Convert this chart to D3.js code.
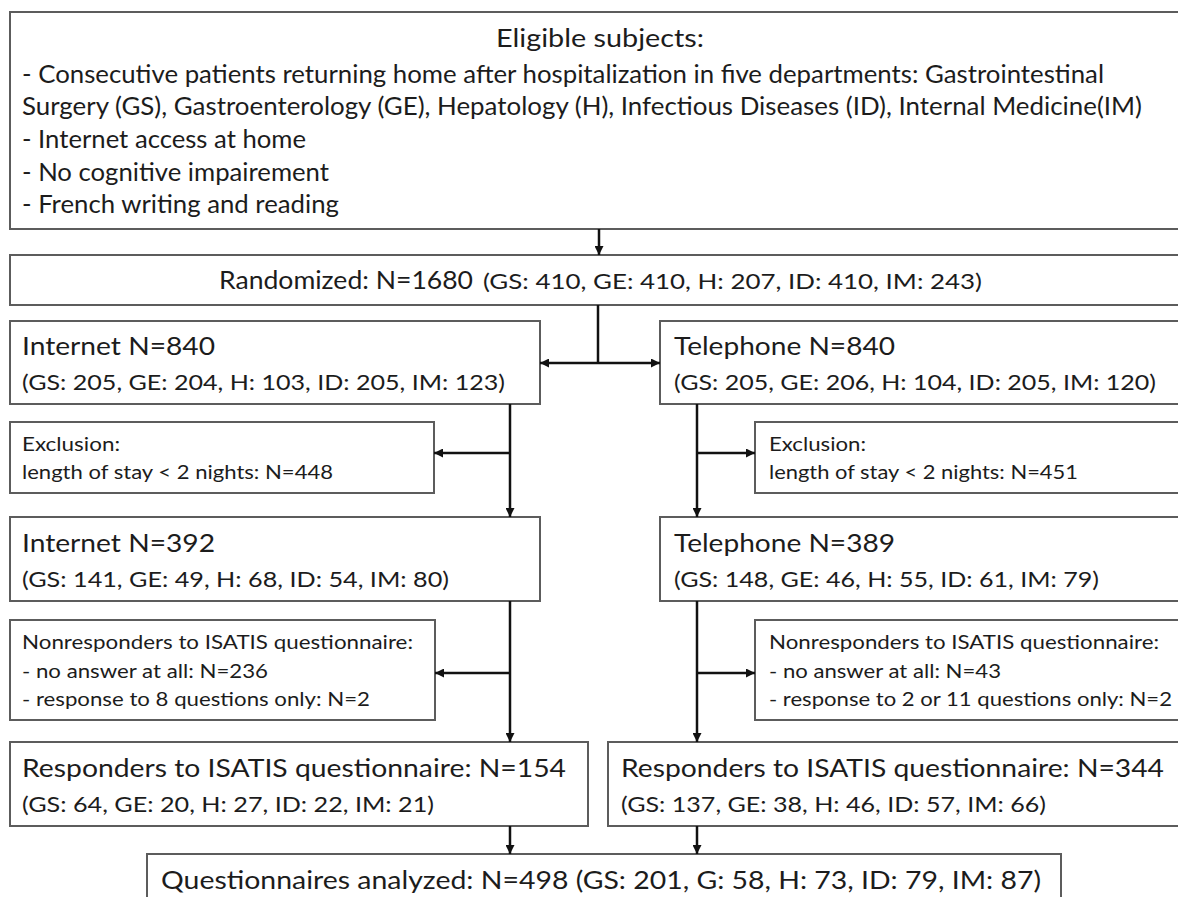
<!DOCTYPE html>
<html>
<head>
<meta charset="utf-8">
<script src="https://cdn.jsdelivr.net/npm/d3@7"></script>
<style>
  body { margin: 0; background: #fff; }
  text { font-family: Lato, "Open Sans", sans-serif; fill: #1c1c1c; }
</style>
</head>
<body>
<svg id="svg" width="1178" height="897"></svg>
<script>
// departments and counts per step of the flow
let depts = ['GS', 'GE', 'H', 'ID', 'IM'];
let deptsAnalyzed = ['GS', 'G', 'H', 'ID', 'IM']; // original figure says "G"
let randomized = [410, 410, 207, 410, 243];
let internet840 = [205, 204, 103, 205, 123];
let telephone840 = [205, 206, 104, 205, 120];
let internet392 = [141, 49, 68, 54, 80];
let telephone389 = [148, 46, 55, 61, 79];
let responders154 = [64, 20, 27, 22, 21];
let responders344 = [137, 38, 46, 57, 66];
let analyzed = [201, 58, 73, 79, 87];

let totals = { randomized: 1680, internet: 840, telephone: 840, internet2: 392, telephone2: 389,
    resp1: 154, resp2: 344, analyzed: 498 };
let excluded = [448, 451];
let noAnswer = [236, 43];
let partial = [2, 2];

let eligibleLines = [
    '- Consecutive patients returning home after hospitalization in five departments: Gastrointestinal',
    'Surgery (GS), Gastroenterology (GE), Hepatology (H), Infectious Diseases (ID), Internal Medicine(IM)',
    '- Internet access at home',
    '- No cognitive impairement',
    '- French writing and reading'
];

let svg = d3.select('#svg');

// builds "(GS: 205, GE: 204, ...)"
let breakdown = (values, names) => {
    names = names || depts;
    return '(' + values.map((v, i) => names[i] + ': ' + v).join(', ') + ')';
}

let sizes = { big: 25, mid: 21.5, small: 19.5 };

// arrow head marker
let defs = svg.append('defs');
defs.append('marker')
    .attr('id', 'head')
    .attr('viewBox', '0 0 10 10')
    .attr('refX', 10).attr('refY', 5)
    .attr('markerUnits', 'userSpaceOnUse')
    .attr('markerWidth', 11).attr('markerHeight', 9)
    .attr('orient', 'auto-start-reverse')
    .append('path')
    .attr('d', 'M0,0 L10,5 L0,10 z')
    .attr('fill', '#111');

let boxG = svg.append('g');
let lineG = svg.append('g');
let textG = svg.append('g');

// x0, y0, x1, y1 of each box (right ones run off the page)
let boxes = [
    [10, 12, 1195, 229],
    [10, 255, 1195, 305],
    [10, 321, 540, 404],
    [660, 321, 1195, 404],
    [10, 422, 434, 493],
    [755, 422, 1195, 493],
    [10, 517, 540, 601],
    [660, 517, 1195, 601],
    [10, 620, 435, 720],
    [755, 620, 1195, 720],
    [10, 742, 588, 826],
    [608, 742, 1195, 826],
    [147, 854, 1061, 920]
];

boxG.selectAll('rect')
    .data(boxes)
    .enter()
    .append('rect')
    .attr('x', d => d[0])
    .attr('y', d => d[1])
    .attr('width', d => d[2] - d[0])
    .attr('height', d => d[3] - d[1])
    .attr('fill', '#fff')
    .attr('stroke', '#5c5c5c')
    .attr('stroke-width', 2);

// connectors: [points, arrow at start, arrow at end]
let links = [
    [[[599, 229], [599, 255]], false, true],
    [[[598, 305], [598, 363]], false, false],
    [[[540, 363], [660, 363]], true, true],
    [[[510, 404], [510, 517]], false, true],
    [[[510, 453], [434, 453]], false, true],
    [[[697, 404], [697, 517]], false, true],
    [[[697, 453], [755, 453]], false, true],
    [[[510, 601], [510, 742]], false, true],
    [[[510, 673], [435, 673]], false, true],
    [[[697, 601], [697, 742]], false, true],
    [[[697, 673], [755, 673]], false, true],
    [[[510, 826], [510, 854]], false, true],
    [[[697, 826], [697, 854]], false, true]
];

let lineGen = d3.line();
lineG.selectAll('path')
    .data(links)
    .enter()
    .append('path')
    .attr('d', d => lineGen(d[0]))
    .attr('fill', 'none')
    .attr('stroke', '#111')
    .attr('stroke-width', 2.5)
    .attr('marker-start', d => d[1] ? 'url(#head)' : null)
    .attr('marker-end', d => d[2] ? 'url(#head)' : null);

// text: [string, x start, x end, baseline, size]
let labels = [
    ['Eligible subjects:', 496, 704, 47, 'big'],
    [eligibleLines[0], 22, 1104, 83, 'big'],
    [eligibleLines[1], 22, 1142, 115, 'big'],
    [eligibleLines[2], 22, 306, 148, 'big'],
    [eligibleLines[3], 22, 329, 181, 'big'],
    [eligibleLines[4], 22, 339, 213, 'big'],

    ['Randomized: N=' + totals.randomized, 219, 473, 289, 'big'],
    [breakdown(randomized), 483, 982, 289, 'mid'],

    ['Internet N=' + totals.internet, 22, 215, 355, 'big'],
    [breakdown(internet840), 22, 505, 390, 'mid'],
    ['Telephone N=' + totals.telephone, 674, 895, 355, 'big'],
    [breakdown(telephone840), 674, 1156, 390, 'mid'],

    ['Exclusion:', 22, 120, 451, 'small'],
    ['length of stay < 2 nights: N=' + excluded[0], 22, 333, 479, 'small'],
    ['Exclusion:', 769, 866, 451, 'small'],
    ['length of stay < 2 nights: N=' + excluded[1], 769, 1078, 479, 'small'],

    ['Internet N=' + totals.internet2, 22, 215, 552, 'big'],
    [breakdown(internet392), 22, 449, 587, 'mid'],
    ['Telephone N=' + totals.telephone2, 674, 895, 552, 'big'],
    [breakdown(telephone389), 674, 1099, 587, 'mid'],

    ['Nonresponders to ISATIS questionnaire:', 22, 413, 649, 'small'],
    ['- no answer at all: N=' + noAnswer[0], 22, 268, 678, 'small'],
    ['- response to 8 questions only: N=' + partial[0], 22, 370, 706, 'small'],
    ['Nonresponders to ISATIS questionnaire:', 769, 1159, 649, 'small'],
    ['- no answer at all: N=' + noAnswer[1], 769, 1001, 678, 'small'],
    ['- response to 2 or 11 questions only: N=' + partial[1], 769, 1172, 706, 'small'],

    ['Responders to ISATIS questionnaire: N=' + totals.resp1, 22, 566, 777, 'big'],
    [breakdown(responders154), 22, 434, 812, 'mid'],
    ['Responders to ISATIS questionnaire: N=' + totals.resp2, 621, 1164, 777, 'big'],
    [breakdown(responders344), 621, 1046, 812, 'mid'],

    ['Questionnaires analyzed: N=' + totals.analyzed + ' ' + breakdown(analyzed, deptsAnalyzed), 161, 1041, 889, 'big']
];

textG.selectAll('text')
    .data(labels)
    .enter()
    .append('text')
    .attr('x', d => d[1])
    .attr('y', d => d[3])
    .attr('font-size', d => sizes[d[4]] + 'px')
    .attr('textLength', d => d[2] - d[1])
    .attr('lengthAdjust', 'spacingAndGlyphs')
    .text(d => d[0]);
</script>
</body>
</html>
